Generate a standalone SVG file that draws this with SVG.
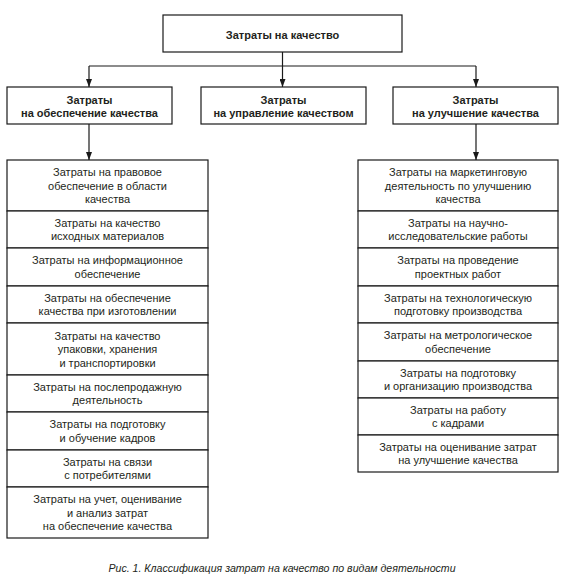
<svg xmlns="http://www.w3.org/2000/svg" width="575" height="585" viewBox="0 0 575 585">
<defs>
<style>
.b{fill:#fff;stroke:#1a1a1a;stroke-width:1.2}
.t{font-family:"Liberation Sans",Arial,sans-serif;font-size:11px;fill:#231f20;text-anchor:middle}
.tb{font-family:"Liberation Sans",Arial,sans-serif;font-size:11px;font-weight:bold;fill:#231f20;text-anchor:middle}
.cap{font-family:"Liberation Sans",Arial,sans-serif;font-size:10.6px;font-style:italic;fill:#231f20;text-anchor:middle}
.c{fill:none;stroke:#1a1a1a;stroke-width:1.2}
</style>
<marker id="a" viewBox="0 0 8 6" refX="8" refY="3" markerWidth="8" markerHeight="6" markerUnits="userSpaceOnUse" orient="auto">
<path d="M0,0 L8,3 L0,6 Z" fill="#1a1a1a"/>
</marker>
</defs>
<rect width="575" height="585" fill="#fff"/>

<g id="connectors">
<path class="c" d="M282.5,52 V66"/>
<path class="c" d="M89,66 H476"/>
<path class="c" d="M89,66 V87" marker-end="url(#a)"/>
<path class="c" d="M282.5,66 V87" marker-end="url(#a)"/>
<path class="c" d="M476,66 V87" marker-end="url(#a)"/>
<path class="c" d="M89,124 V160" marker-end="url(#a)"/>
<path class="c" d="M476,124 V160" marker-end="url(#a)"/>
</g>

<g id="root">
<rect class="b" x="163" y="15" width="239" height="37"/>
<text class="tb" x="282.5" y="39">Затраты на качество</text>
</g>

<g id="assurance">
<rect class="b" x="7" y="87" width="165" height="37"/>
<text class="tb"><tspan x="89.5" y="104">Затраты</tspan><tspan x="89.5" y="117">на обеспечение качества</tspan></text>
</g>
<g id="management">
<rect class="b" x="201" y="87" width="165" height="37"/>
<text class="tb"><tspan x="283.5" y="104">Затраты</tspan><tspan x="283.5" y="117">на управление качеством</tspan></text>
</g>
<g id="improvement">
<rect class="b" x="393" y="87" width="165" height="37"/>
<text class="tb"><tspan x="475.5" y="104">Затраты</tspan><tspan x="475.5" y="117">на улучшение качества</tspan></text>
</g>

<g id="l1"><rect class="b" x="7" y="160" width="201" height="51"/>
<text class="t"><tspan x="107.5" y="176">Затраты на правовое</tspan><tspan x="107.5" y="189.5">обеспечение в области</tspan><tspan x="107.5" y="203">качества</tspan></text></g>
<g id="l2"><rect class="b" x="7" y="211" width="201" height="37"/>
<text class="t"><tspan x="107.5" y="226.75">Затраты на качество</tspan><tspan x="107.5" y="240.25">исходных материалов</tspan></text></g>
<g id="l3"><rect class="b" x="7" y="248" width="201" height="38"/>
<text class="t"><tspan x="107.5" y="264.25">Затраты на информационное</tspan><tspan x="107.5" y="277.75">обеспечение</tspan></text></g>
<g id="l4"><rect class="b" x="7" y="286" width="201" height="37"/>
<text class="t"><tspan x="107.5" y="301.75">Затраты на обеспечение</tspan><tspan x="107.5" y="315.25">качества при изготовлении</tspan></text></g>
<g id="l5"><rect class="b" x="7" y="323" width="201" height="52"/>
<text class="t"><tspan x="107.5" y="339.5">Затраты на качество</tspan><tspan x="107.5" y="353">упаковки, хранения</tspan><tspan x="107.5" y="366.5">и транспортировки</tspan></text></g>
<g id="l6"><rect class="b" x="7" y="375" width="201" height="37"/>
<text class="t"><tspan x="107.5" y="390.75">Затраты на послепродажную</tspan><tspan x="107.5" y="404.25">деятельность</tspan></text></g>
<g id="l7"><rect class="b" x="7" y="412" width="201" height="38"/>
<text class="t"><tspan x="107.5" y="428.25">Затраты на подготовку</tspan><tspan x="107.5" y="441.75">и обучение кадров</tspan></text></g>
<g id="l8"><rect class="b" x="7" y="450" width="201" height="37"/>
<text class="t"><tspan x="107.5" y="465.75">Затраты на связи</tspan><tspan x="107.5" y="479.25">с потребителями</tspan></text></g>
<g id="l9"><rect class="b" x="7" y="487" width="201" height="51"/>
<text class="t"><tspan x="107.5" y="503">Затраты на учет, оценивание</tspan><tspan x="107.5" y="516.5">и анализ затрат</tspan><tspan x="107.5" y="530">на обеспечение качества</tspan></text></g>

<g id="r1"><rect class="b" x="358" y="160" width="200" height="51"/>
<text class="t"><tspan x="458" y="176">Затраты на маркетинговую</tspan><tspan x="458" y="189.5">деятельность по улучшению</tspan><tspan x="458" y="203">качества</tspan></text></g>
<g id="r2"><rect class="b" x="358" y="211" width="200" height="37"/>
<text class="t"><tspan x="458" y="226.75">Затраты на научно-</tspan><tspan x="458" y="240.25">исследовательские работы</tspan></text></g>
<g id="r3"><rect class="b" x="358" y="248" width="200" height="38"/>
<text class="t"><tspan x="458" y="264.25">Затраты на проведение</tspan><tspan x="458" y="277.75">проектных работ</tspan></text></g>
<g id="r4"><rect class="b" x="358" y="286" width="200" height="37"/>
<text class="t"><tspan x="458" y="301.75">Затраты на технологическую</tspan><tspan x="458" y="315.25">подготовку производства</tspan></text></g>
<g id="r5"><rect class="b" x="358" y="323" width="200" height="38"/>
<text class="t"><tspan x="458" y="339.25">Затраты на метрологическое</tspan><tspan x="458" y="352.75">обеспечение</tspan></text></g>
<g id="r6"><rect class="b" x="358" y="361" width="200" height="37"/>
<text class="t"><tspan x="458" y="376.75">Затраты на подготовку</tspan><tspan x="458" y="390.25">и организацию производства</tspan></text></g>
<g id="r7"><rect class="b" x="358" y="398" width="200" height="37"/>
<text class="t"><tspan x="458" y="413.75">Затраты на работу</tspan><tspan x="458" y="427.25">с кадрами</tspan></text></g>
<g id="r8"><rect class="b" x="358" y="435" width="200" height="37"/>
<text class="t"><tspan x="458" y="450.75">Затраты на оценивание затрат</tspan><tspan x="458" y="464.25">на улучшение качества</tspan></text></g>

<text class="cap" x="282" y="572">Рис. 1. Классификация затрат на качество по видам деятельности</text>
</svg>
